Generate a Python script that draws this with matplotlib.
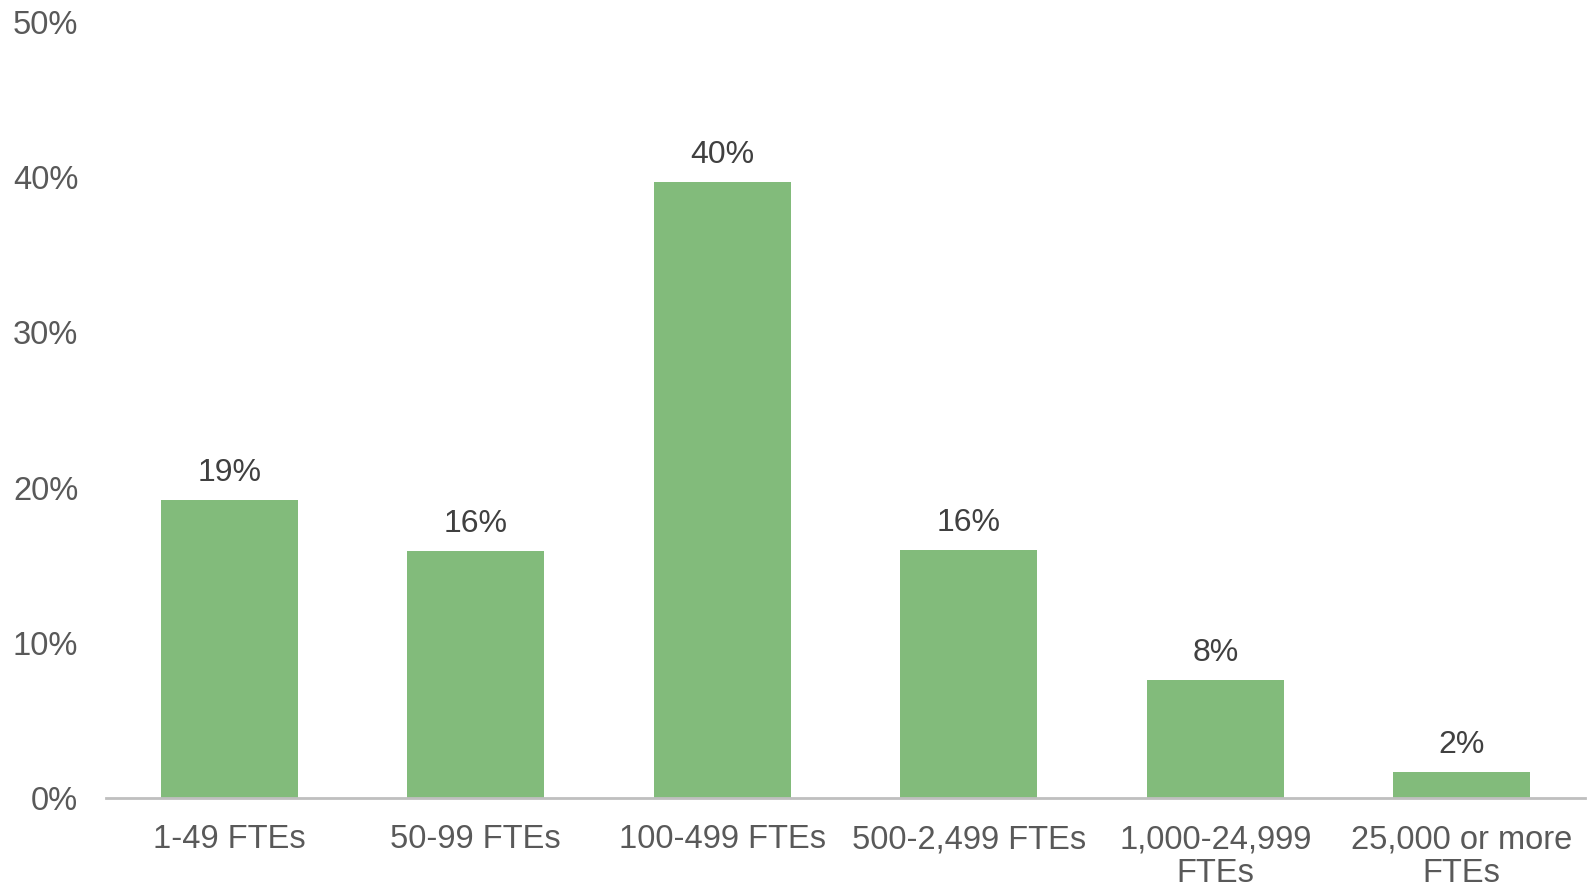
import matplotlib.pyplot as plt
import numpy as np

plt.rcParams['font.family'] = ['Liberation Sans', 'DejaVu Sans']

categories = ["1-49 FTEs", "50-99 FTEs", "100-499 FTEs", "500-2,499 FTEs",
              "1,000-24,999\nFTEs", "25,000 or more\nFTEs"]
values = [19.2, 15.9, 39.7, 16.0, 7.6, 1.7]
value_labels = ["19%", "16%", "40%", "16%", "8%", "2%"]
yticks = [0, 10, 20, 30, 40, 50]

fig = plt.figure(figsize=(15.89, 8.88), dpi=100)
ax = fig.add_axes([0.0667, 0.1014, 0.9308, 0.8738])

x = np.arange(len(categories))
bars = ax.bar(x, values, width=0.556, color="#82BB7B", zorder=2)

for b, lab in zip(bars, value_labels):
    ax.annotate(lab, (b.get_x() + b.get_width() / 2, b.get_height()),
                xytext=(0, 13.5), textcoords="offset points",
                ha="center", va="baseline", fontsize=23, color="#404040")

ax.set_xlim(-0.5, len(categories) - 0.5)
ax.set_ylim(0, 50)
ax.set_yticks(yticks)
ax.set_yticklabels([f"{t}%" for t in yticks])
ax.set_xticks(x)
ax.set_xticklabels(categories, linespacing=1.12)

ax.tick_params(axis="y", length=0, pad=20, labelsize=23.5, labelcolor="#595959")
ax.tick_params(axis="x", length=0, pad=19, labelsize=23.5, labelcolor="#595959")

for s in ["top", "right", "left"]:
    ax.spines[s].set_visible(False)
ax.spines["bottom"].set_color("#BFBFBF")
ax.spines["bottom"].set_linewidth(2)
ax.spines["bottom"].set_zorder(3)

fig.savefig("out.png", dpi=100)
